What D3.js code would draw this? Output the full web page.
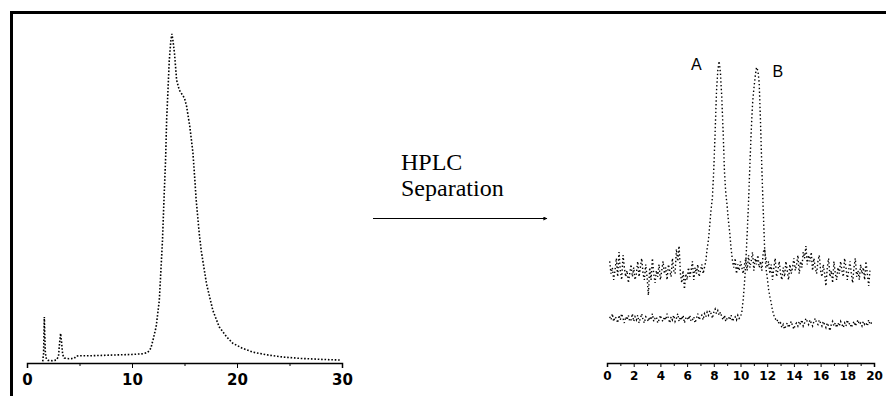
<!DOCTYPE html>
<html>
<head>
<meta charset="utf-8">
<script src="https://cdn.jsdelivr.net/npm/d3@7"></script>
<style>
  body { margin: 0; background: #fff; }
  svg { display: block; }
</style>
</head>
<body>
<svg id="chart" width="886" height="396"></svg>
<script>
// left chromatogram (crude mixture), time in min, signal in % of max
const crudeTime = [1.5, 1.58, 1.62, 1.65, 1.7, 1.75, 1.85, 2.0, 2.4, 2.8, 3.0, 3.1, 3.2, 3.3, 3.4, 3.55, 4.0, 4.5, 4.7,
  5, 6, 7, 8, 9, 10, 11, 11.5, 11.8, 12.0, 12.3, 12.6, 12.9, 13.05, 13.2, 13.3, 13.4, 13.55, 13.7, 13.8, 13.9,
  14.05, 14.25, 14.5, 14.8, 15.0, 15.2, 15.5, 15.8, 16.0, 16.1, 16.4, 16.6, 17.1, 17.7, 18.3, 19.0, 19.6, 20.5,
  21.5, 23, 24.4, 26, 28, 29.8];
const crudeSignal = [0.5, 3, 10, 14, 8, 3, 1.2, 0.8, 0.7, 0.9, 2, 6, 9, 6, 2.5, 1.5, 1.3, 1.4, 2.1,
  2.2, 2.2, 2.3, 2.4, 2.5, 2.6, 2.8, 3.2, 4.5, 7, 11, 19, 37, 50, 62, 74, 81, 92, 98, 100, 98,
  94, 86, 83, 81.5, 80.5, 78, 72, 64, 55, 50, 39.5, 34, 24, 16, 11, 8, 6, 4.5,
  3.3, 2.4, 1.8, 1.4, 1.1, 0.9];
const crudeTicks = [0, 10, 20, 30];
const crudeMinorTicks = [5, 15, 25];

// right chromatograms (separated A and B), sampled every 0.1 min
const sepStart = 0.2;
const sepStep = 0.1;
const traceA = [
  33, 29, 31, 27, 30, 34, 28, 36, 30, 27,
  35, 31, 28, 30, 26, 29, 32, 28, 31, 27,
  29, 33, 28, 31, 34, 29, 27, 32, 28, 22,
  31, 27, 34, 29, 26, 30, 28, 32, 27, 30,
  33, 29, 31, 27, 32, 30, 28, 34, 30, 29,
  37, 33, 38, 29, 26, 30, 24, 29, 27, 31,
  28, 30, 33, 27, 31, 29, 32, 28, 30, 32,
  29, 31, 33, 37, 40, 45, 50, 54, 63, 75,
  88, 95, 98, 94, 86, 75, 62, 55, 51, 46,
  42, 37, 33, 31, 34, 29, 32, 30, 33, 31,
  29, 32, 34, 30, 35, 31, 33, 36, 30, 34,
  32, 35, 31, 33, 30, 36, 37, 34, 31, 33,
  29, 32, 27, 31, 34, 28, 30, 33, 29, 27,
  31, 28, 33, 30, 27, 32, 29, 31, 34, 30,
  32, 35, 29, 33, 31, 36, 34, 38, 32, 35,
  33, 36, 30, 34, 31, 29, 33, 35, 30, 28,
  32, 29, 25, 31, 34, 28, 30, 26, 33, 29,
  27, 31, 29, 33, 30, 28, 34, 31, 27, 30,
  33, 29, 26, 31, 34, 28, 30, 27, 32, 29,
  31, 27, 33, 29, 25, 30
];
const traceB = [
  15, 14, 16, 13.5, 15, 14.5, 13, 15.5, 14, 16,
  14.5, 13, 15, 14, 15.5, 13.5, 14, 16, 13.5, 15,
  14, 15.5, 13, 14.5, 16, 14, 13, 15, 14.5, 13.5,
  15, 14, 16, 13.5, 14.5, 15, 13, 14, 15.5, 14,
  13.5, 15, 14, 16, 14.5, 13, 15, 14, 15.5, 13.5,
  14.5, 16, 13.5, 15, 14, 15.5, 13, 14.5, 15, 14,
  15.5, 13.5, 14, 15, 13, 14.5, 16, 14, 15, 15.5,
  14, 16, 15, 16.5, 15.5, 17, 16, 14.5, 16.5, 17.5,
  16, 17, 15.5, 16.5, 15, 14, 15.5, 13.5, 14.5, 15,
  14, 15.5, 13.5, 14.5, 15, 14, 15.5, 14.5, 15, 16.5,
  20.5, 26, 33, 42, 52, 64, 75, 84, 89, 93,
  96, 95, 91, 78, 63, 50, 38, 31, 28, 24,
  21.5, 19.5, 17, 15.5, 14.5, 13.5, 14, 12.5, 13, 11.5,
  12.5, 11, 12, 13, 11.5, 12.5, 13.5, 12, 11, 12.5,
  13, 12, 13.5, 12.5, 14, 12, 13, 14.5, 13.5, 12.5,
  14, 13, 12, 13.5, 14.5, 13, 12.5, 14, 13, 12,
  13.5, 12.5, 11.5, 13, 12, 10.5, 12.5, 13.5, 12, 13,
  11.5, 13, 12, 13.5, 12.5, 11.5, 13, 12, 14, 12.5,
  13, 11.5, 12.5, 13.5, 12, 13, 14, 12.5, 13, 12,
  13.5, 12.5, 13, 12, 14, 12.5, 13, 13.5
];
const sepTicks = [0, 2, 4, 6, 8, 10, 12, 14, 16, 18, 20];
const peakLabels = [{ name: "A", t: 6.7, v: 95 }, { name: "B", t: 12.8, v: 93 }];

const svg = d3.select("#chart");

// frame (top and left edges only)
svg.append("path")
  .attr("d", "M11.5,396V12.5H886")
  .attr("fill", "none")
  .attr("stroke", "#000")
  .attr("stroke-width", 3);

// ---- left panel ----
const xL = d3.scaleLinear().domain([0, 30]).range([27, 342]);
const yL = d3.scaleLinear().domain([0, 100]).range([363, 34]);

const gL = svg.append("g");

const axisL = gL.append("g")
  .attr("transform", "translate(0,363)")
  .call(d3.axisBottom(xL).tickValues(crudeTicks).tickSize(5).tickFormat(d3.format("d")));
gL.append("g")
  .attr("transform", "translate(0,363)")
  .call(d3.axisBottom(xL).tickValues(crudeMinorTicks).tickSize(3).tickFormat(""))
  .call((g) => g.select(".domain").remove());
axisL.select(".domain").attr("stroke-width", 1.5);
axisL.selectAll("text")
  .style("font-family", "'DejaVu Sans', sans-serif")
  .style("font-weight", "bold")
  .style("font-size", "15px")
  .attr("dy", "0.9em")
  .attr("fill", "#000");

const lineL = d3.line()
  .x((d, i) => xL(crudeTime[i]))
  .y((d) => yL(d));

gL.append("path")
  .datum(crudeSignal)
  .attr("d", lineL)
  .attr("fill", "none")
  .attr("stroke", "#000")
  .attr("stroke-width", 1.6)
  .attr("stroke-dasharray", "1.6 1.8");

// ---- arrow ----
svg.append("defs").append("marker")
  .attr("id", "head")
  .attr("viewBox", "0 0 10 10")
  .attr("refX", 9)
  .attr("refY", 5)
  .attr("markerWidth", 6)
  .attr("markerHeight", 4)
  .attr("orient", "auto")
  .append("path")
  .attr("d", "M0,0L10,5L0,10z")
  .attr("fill", "#000");

svg.append("line")
  .attr("x1", 373)
  .attr("x2", 547)
  .attr("y1", 218.5)
  .attr("y2", 218.5)
  .attr("stroke", "#000")
  .attr("stroke-width", 1)
  .attr("marker-end", "url(#head)");

const caption = svg.append("text")
  .attr("font-family", "Liberation Serif, Times New Roman, serif")
  .attr("font-size", 24)
  .attr("fill", "#000");
caption.append("tspan").attr("x", 401).attr("y", 170).text("HPLC");
caption.append("tspan").attr("x", 401).attr("y", 196).text("Separation");

// ---- right panel ----
const xR = d3.scaleLinear().domain([0, 20]).range([607, 874]);
const yR = d3.scaleLinear().domain([0, 100]).range([363, 55]);

const gR = svg.append("g");

const axisR = gR.append("g")
  .attr("transform", "translate(0,363)")
  .call(d3.axisBottom(xR).tickValues(sepTicks).tickSize(4).tickFormat(d3.format("d")));
gR.append("g")
  .attr("transform", "translate(0,363)")
  .call(d3.axisBottom(xR).tickValues(d3.range(1, 20, 2)).tickSize(3).tickFormat(""))
  .call((g) => g.select(".domain").remove());
axisR.select(".domain").attr("stroke-width", 1.5);
axisR.selectAll("text")
  .style("font-family", "'DejaVu Sans', sans-serif")
  .style("font-weight", "bold")
  .style("font-size", "12px")
  .attr("dy", "0.8em")
  .attr("fill", "#000");

const lineR = d3.line()
  .x((d, i) => xR(sepStart + i * sepStep))
  .y((d) => yR(d));

[traceA, traceB].forEach((trace) => {
  gR.append("path")
    .datum(trace)
    .attr("d", lineR)
    .attr("fill", "none")
    .attr("stroke", "#000")
    .attr("stroke-width", 1.4)
    .attr("stroke-dasharray", "1.4 2.4");
});

gR.selectAll(".peak-label")
  .data(peakLabels)
  .enter()
  .append("text")
  .attr("class", "peak-label")
  .attr("x", (d) => xR(d.t))
  .attr("y", (d) => yR(d.v))
  .attr("text-anchor", "middle")
  .attr("font-family", "Liberation Sans, Arial, sans-serif")
  .attr("font-size", 16)
  .attr("fill", "#000")
  .text((d) => d.name);
</script>
</body>
</html>
